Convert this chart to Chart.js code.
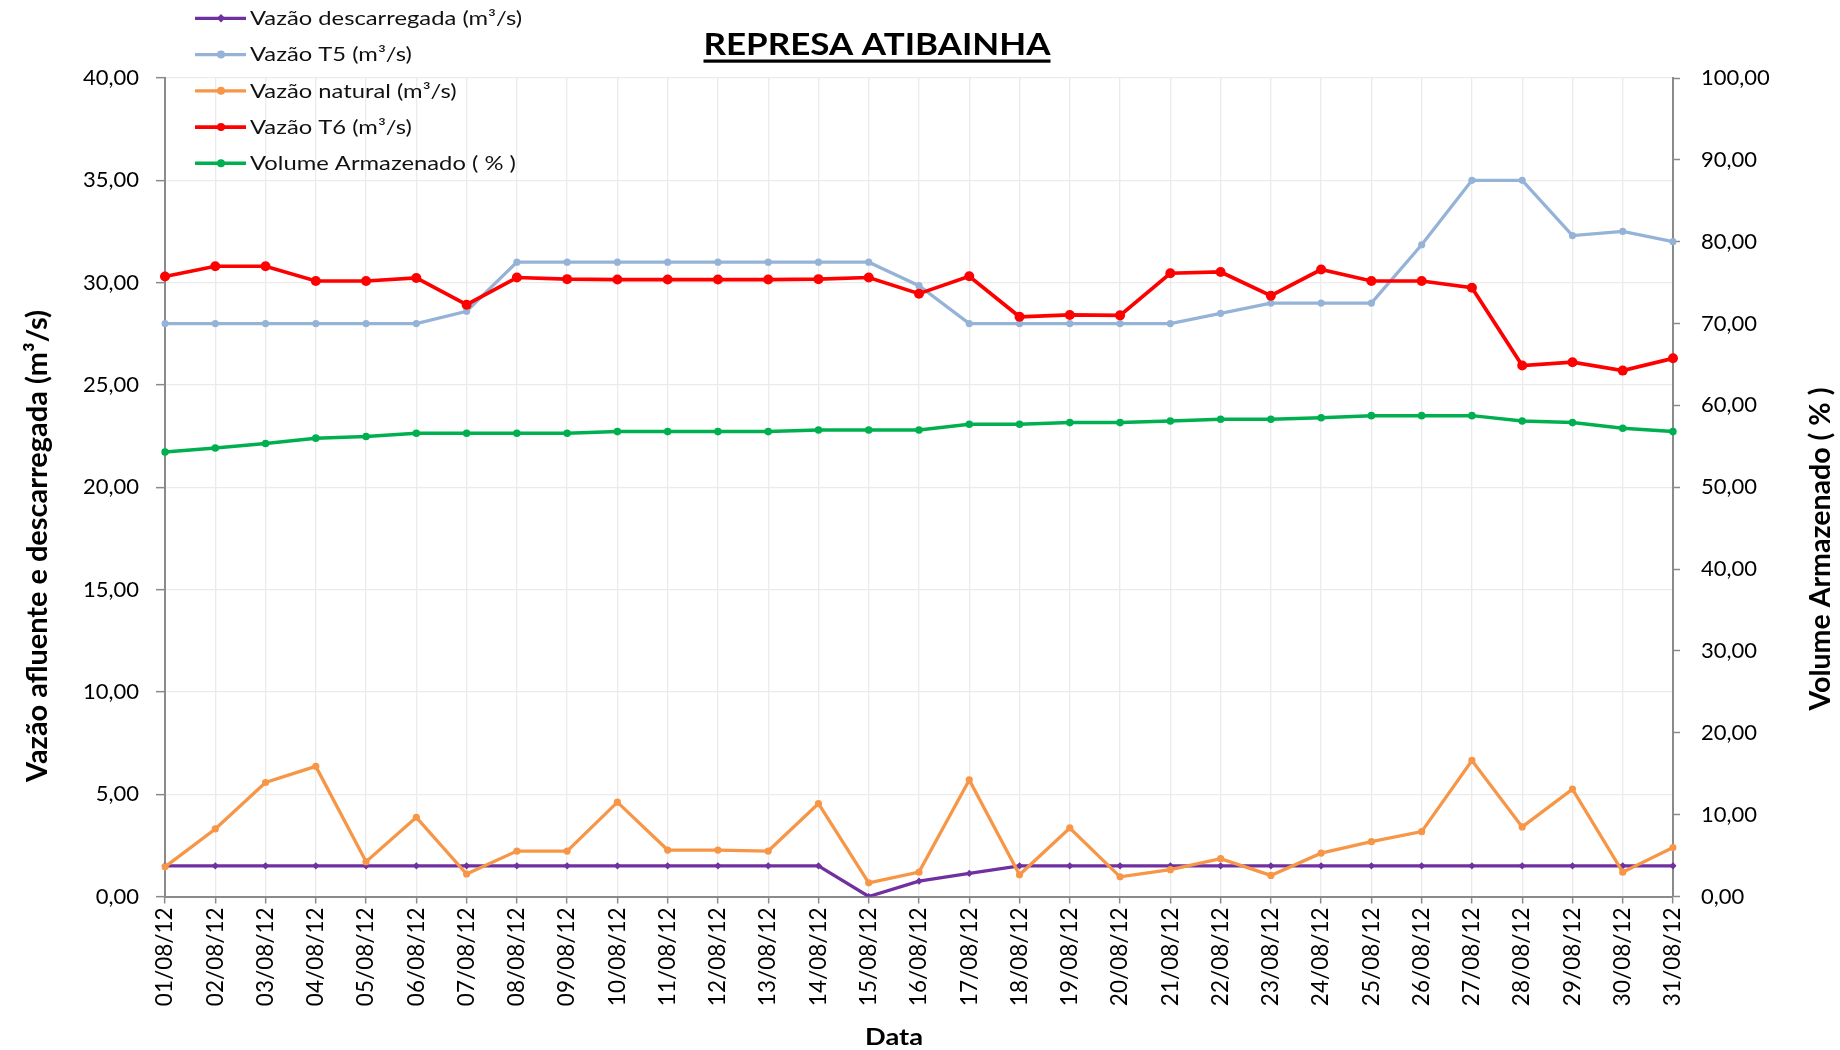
<!DOCTYPE html>
<html>
<head>
<meta charset="utf-8">
<script src="https://cdn.jsdelivr.net/npm/chart.js@4/dist/chart.umd.min.js"></script>
<style>
  html, body { margin: 0; padding: 0; background: #ffffff; }
  #wrap { width: 1840px; height: 1050px; position: relative; }
</style>
</head>
<body>
<div id="wrap"><canvas id="c" width="1840" height="1050"></canvas></div>
<script>
const TITLE = 'REPRESA ATIBAINHA';
const X_TITLE = 'Data';
const Y_TITLE = 'Vazão afluente e descarregada (m³/s)';
const Y2_TITLE = 'Volume Armazenado ( % )';

const categories = ['01/08/12','02/08/12','03/08/12','04/08/12','05/08/12','06/08/12','07/08/12','08/08/12',
  '09/08/12','10/08/12','11/08/12','12/08/12','13/08/12','14/08/12','15/08/12','16/08/12','17/08/12',
  '18/08/12','19/08/12','20/08/12','21/08/12','22/08/12','23/08/12','24/08/12','25/08/12','26/08/12',
  '27/08/12','28/08/12','29/08/12','30/08/12','31/08/12'];

const seriesNames = ['Vazão descarregada (m³/s)','Vazão T5 (m³/s)','Vazão natural (m³/s)','Vazão T6 (m³/s)','Volume Armazenado ( % )'];

const vazaoDescarregada = [1.5,1.5,1.5,1.5,1.5,1.5,1.5,1.5,1.5,1.5,1.5,1.5,1.5,1.5,0.0,0.75,1.13,
  1.5,1.5,1.5,1.5,1.5,1.5,1.5,1.5,1.5,1.5,1.5,1.5,1.5,1.5];
const vazaoT5 = [28.0,28.0,28.0,28.0,28.0,28.0,28.6,31.0,31.0,31.0,31.0,31.0,31.0,31.0,31.0,29.85,
  28.0,28.0,28.0,28.0,28.0,28.5,29.0,29.0,29.0,31.85,35.0,35.0,32.3,32.5,32.0];
const vazaoNatural = [1.45,3.3,5.57,6.36,1.7,3.87,1.1,2.22,2.22,4.61,2.27,2.27,2.22,4.54,0.67,1.19,
  5.7,1.06,3.35,0.96,1.31,1.85,1.03,2.12,2.68,3.17,6.65,3.4,5.25,1.19,2.39];
const vazaoT6 = [30.3,30.8,30.8,30.08,30.08,30.23,28.92,30.25,30.17,30.15,30.15,30.15,30.15,30.17,30.25,
  29.46,30.31,28.33,28.42,28.4,30.46,30.52,29.36,30.64,30.08,30.08,29.75,25.95,26.11,25.7,26.3];
const volumeArmazenado = [54.3,54.8,55.35,56.0,56.2,56.6,56.6,56.6,56.6,56.8,56.8,56.8,56.8,57.0,57.0,
  57.0,57.7,57.7,57.9,57.9,58.1,58.3,58.3,58.5,58.75,58.75,58.75,58.1,57.9,57.2,56.8];

const leftTicks = { min: 0, max: 40, step: 5 };
const rightTicks = { min: 0, max: 100, step: 10 };

const colors = ['#7030A0', '#95B3D7', '#F79646', '#FF0000', '#00B050'];
const markerStyles = ['rectRot', 'circle', 'circle', 'circle', 'circle'];
const markerRadius = [3.6, 3.6, 3.6, 5, 3.8];
const lineWidths = [3.3, 3.3, 3.3, 3.7, 3.5];

const fmt = v => Number(v).toFixed(2).replace('.', ',');

function ds(i, data, axis, order) {
  return {
    label: seriesNames[i], data, yAxisID: axis, order,
    borderColor: colors[i], backgroundColor: colors[i],
    borderWidth: lineWidths[i], pointStyle: markerStyles[i],
    pointRadius: markerRadius[i], pointHoverRadius: markerRadius[i],
    pointBorderWidth: 0, tension: 0, fill: false
  };
}

function drawFitted(ctx, text, x, y, font, targetW, angle, color) {
  ctx.save();
  ctx.translate(x, y);
  ctx.rotate(angle);
  ctx.font = font;
  const w = ctx.measureText(text).width;
  ctx.scale(targetW / w, 1);
  ctx.fillStyle = color || '#000';
  ctx.textAlign = 'center';
  ctx.textBaseline = 'alphabetic';
  ctx.fillText(text, 0, 0);
  ctx.restore();
}

const textPlugin = {
  id: 'texts',
  afterDraw(chart) {
    const ctx = chart.ctx;
    // Title with underline
    drawFitted(ctx, TITLE, 877, 55, 'bold 31px Lato', 347, 0);
    ctx.fillStyle = '#000';
    ctx.fillRect(877 - 347 / 2, 59.5, 347, 3.2);
    // X axis title
    drawFitted(ctx, X_TITLE, 894, 1045, 'bold 22px Lato', 58, 0);
    // Y axis titles (reading bottom to top)
    drawFitted(ctx, Y_TITLE, 47, 546, 'bold 29px Lato', 472, -Math.PI / 2);
    drawFitted(ctx, Y2_TITLE, 1830, 549, 'bold 29px Lato', 323, -Math.PI / 2);
    // Legend
    ctx.save();
    ctx.font = '19px Lato';
    const sx = 272 / ctx.measureText(seriesNames[0]).width;
    for (let i = 0; i < seriesNames.length; i++) {
      const yy = 18.3 + i * 36.25;
      ctx.strokeStyle = colors[i];
      ctx.lineWidth = lineWidths[i];
      ctx.beginPath();
      ctx.moveTo(195, yy);
      ctx.lineTo(246, yy);
      ctx.stroke();
      ctx.fillStyle = colors[i];
      ctx.beginPath();
      if (markerStyles[i] === 'rectRot') {
        const r = 4.2;
        ctx.moveTo(221, yy - r); ctx.lineTo(221 + r, yy); ctx.lineTo(221, yy + r); ctx.lineTo(221 - r, yy);
      } else {
        ctx.arc(221, yy, 4, 0, Math.PI * 2);
      }
      ctx.closePath();
      ctx.fill();
      ctx.save();
      ctx.translate(250, yy + 6.8);
      ctx.scale(sx, 1);
      ctx.fillStyle = '#111';
      ctx.textAlign = 'left';
      ctx.textBaseline = 'alphabetic';
      ctx.fillText(seriesNames[i], 0, 0);
      ctx.restore();
    }
    ctx.restore();
  }
};

const bgPlugin = {
  id: 'bg',
  beforeDraw(chart) {
    const ctx = chart.ctx;
    ctx.save();
    ctx.fillStyle = '#ffffff';
    ctx.fillRect(0, 0, chart.width, chart.height);
    ctx.restore();
  }
};

new Chart(document.getElementById('c'), {
  type: 'line',
  data: {
    labels: categories,
    datasets: [
      ds(0, vazaoDescarregada, 'y', 5),
      ds(1, vazaoT5, 'y', 4),
      ds(2, vazaoNatural, 'y', 3),
      ds(3, vazaoT6, 'y', 2),
      ds(4, volumeArmazenado, 'y2', 1)
    ]
  },
  options: {
    responsive: false,
    animation: false,
    devicePixelRatio: 1,
    layout: { padding: { top: 78, left: 0, right: 0, bottom: 0 } },
    plugins: { legend: { display: false }, title: { display: false }, tooltip: { enabled: false } },
    scales: {
      x: {
        type: 'category',
        offset: false,
        grid: { color: '#ebebeb', lineWidth: 1.3, tickColor: '#8a8a8a', tickLength: 7, tickWidth: 1.5, offset: false },
        border: { color: '#8a8a8a', width: 2 },
        ticks: { autoSkip: false, maxRotation: 90, minRotation: 90, padding: 4, color: '#000',
          font: { family: 'Lato', size: 22.5 } },
        afterFit(scale) { scale.height = 153.5; }
      },
      y: {
        position: 'left',
        min: leftTicks.min, max: leftTicks.max,
        grid: { color: '#ebebeb', lineWidth: 1.3, tickColor: '#8a8a8a', tickLength: 9, tickWidth: 1.5 },
        border: { color: '#8a8a8a', width: 2 },
        ticks: { stepSize: leftTicks.step, padding: 17, color: '#000', callback: v => fmt(v),
          font: { family: 'Lato', size: 22 } },
        afterFit(scale) { scale.width = 165; }
      },
      y2: {
        position: 'right',
        min: rightTicks.min, max: rightTicks.max,
        grid: { drawOnChartArea: false, color: '#8a8a8a', tickColor: '#8a8a8a', tickLength: 7, tickWidth: 1.5 },
        border: { color: '#8a8a8a', width: 2 },
        ticks: { stepSize: rightTicks.step, padding: 21, color: '#000', callback: v => fmt(v),
          font: { family: 'Lato', size: 22 } },
        afterFit(scale) { scale.width = 167; }
      }
    }
  },
  plugins: [bgPlugin, textPlugin]
});
</script>
</body>
</html>
